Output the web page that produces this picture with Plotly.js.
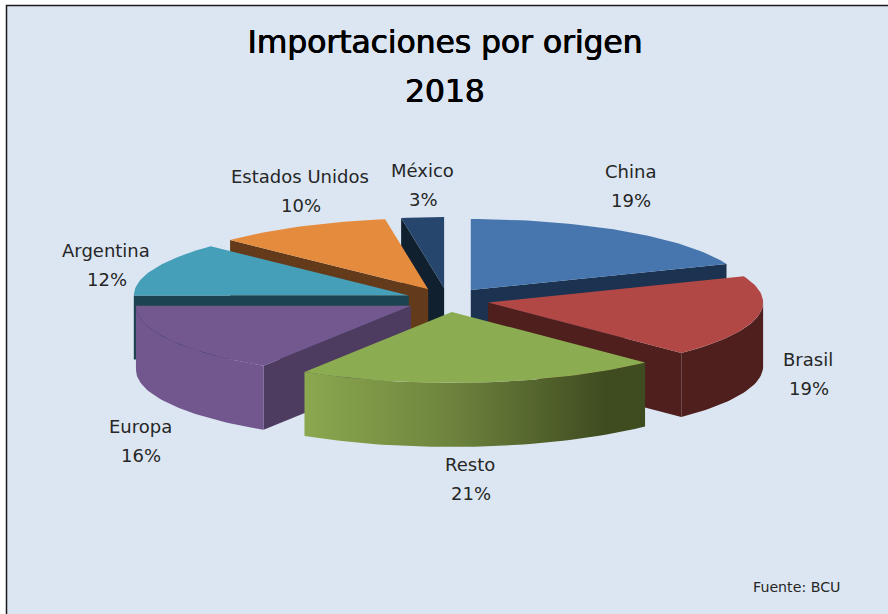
<!DOCTYPE html>
<html><head><meta charset="utf-8">
<script src="https://cdn.plot.ly/plotly-3.0.1.min.js"></script>
<style>html,body{margin:0;padding:0;background:#fff}</style></head>
<body><div id="chart" style="width:888px;height:614px"></div>
<script>
// Data (clockwise from 12 o'clock)
const categories = ['China','Brasil','Resto','Europa','Argentina','Estados Unidos','México'];
const shares = [19.0,18.6,21.4,16.0,12.2,10.3,2.5];
const topColors = ['#4776AF','#B14845','#8CAC51','#73578F','#459FB9','#E58B3E','#26466D'];
const wallColors = ['#1B3350','#4E1F1D','#6C813C','#72568E','#1C4450','#643B1A','#11202F'];
const faceColors = ['#1B3350','#4E1F1D','#3F4C20','#4E3B60','#1C4450','#643B1A','#11202F'];
const labelX = [630,808,470,140,106,300,422];
const labelY = [171,359,464,426,250,176,170];
const paintOrder = ['México','China','Estados Unidos','Argentina','Brasil','Europa','Resto'];

// Projection of the tilted, exploded pie
const CX=447.4, CY=300, R=275, RY=71, EX=41.6, EY=12, H=64, D2R=Math.PI/180;
const total = shares.reduce((a,b)=>a+b,0);
let cum = 0;
const slices = categories.map((name,i)=>{
  const a0 = cum/total*360; cum += shares[i]; const a1 = cum/total*360;
  const mid = (a0+a1)/2*D2R;
  return {name,i,a0,a1,ax:CX+EX*Math.sin(mid),ay:CY-EY*Math.cos(mid)};
});
const rim = (s,deg,dy=0)=>[s.ax+R*Math.sin(deg*D2R), s.ay-RY*Math.cos(deg*D2R)+dy];
function arc(s,from,to,dy=0){const n=Math.max(2,Math.ceil((to-from)/1.5));const p=[];
  for(let k=0;k<=n;k++)p.push(rim(s,from+(to-from)*k/n,dy));return p;}
function poly(pts,color,name,extra){pts=pts.concat([pts[0]]);
  return Object.assign({type:'scatter',mode:'lines',x:pts.map(p=>p[0]),y:pts.map(p=>p[1]),
    fill:'toself',fillcolor:color,line:{width:0,color:color},name:name,hoverinfo:'skip',showlegend:false},extra||{});}
function face(s,deg,color){const r=rim(s,deg);
  return poly([[s.ax,s.ay],r,[r[0],r[1]+H],[s.ax,s.ay+H]],color,s.name);}

const traces=[];
paintOrder.forEach(name=>{
  const s=slices.find(t=>t.name===name), i=s.i;
  if(Math.sin(s.a0*D2R)<-1e-6) traces.push(face(s,s.a0,faceColors[i]));
  if(Math.sin(s.a1*D2R)>1e-6) traces.push(face(s,s.a1,faceColors[i]));
  const from=Math.max(s.a0,90), to=Math.min(s.a1,270);
  if(to>from){
    const top=arc(s,from,to), bot=arc(s,from,to,H).reverse();
    const extra = name==='Resto' ? {fillgradient:{type:'horizontal',
      colorscale:[[0,'#8BA84F'],[0.45,'#6C813C'],[0.88,'#3F4C20'],[1,'#3F4C20']]}} : {};
    traces.push(poly(top.concat(bot),wallColors[i],name,extra));
  }
  traces.push(poly([[s.ax,s.ay]].concat(arc(s,s.a0,s.a1)),topColors[i],name));
});

const LBL={family:'DejaVu Sans, Verdana, sans-serif',size:18,color:'#262626'};
const TTL={family:'DejaVu Sans, Verdana, sans-serif',size:31.3,color:'#000',shadow:'0.6px 0 0 #000, -0.3px 0 0 #000'};
const annotations=[];
categories.forEach((c,i)=>{
  const base={xref:'x',yref:'y',showarrow:false,xanchor:'center',yanchor:'middle',font:LBL};
  annotations.push(Object.assign({},base,{x:labelX[i],y:labelY[i],text:c}));
  annotations.push(Object.assign({},base,{x:labelX[i]+1,y:labelY[i]+29,text:Math.round(shares[i])+'%'}));
});
annotations.push({xref:'x',yref:'y',x:445,y:91,text:'2018',showarrow:false,xanchor:'center',yanchor:'middle',font:TTL});
annotations.push({xref:'x',yref:'y',x:796,y:587,text:'Fuente: BCU',showarrow:false,xanchor:'center',yanchor:'middle',
  font:{family:'DejaVu Sans, Verdana, sans-serif',size:14.2,color:'#262626'}});

const layout={
  width:888,height:614,margin:{l:0,r:0,t:0,b:0},
  paper_bgcolor:'#ffffff',plot_bgcolor:'rgba(0,0,0,0)',showlegend:false,
  title:{text:'Importaciones por origen',x:445/888,xanchor:'center',y:1-42/614,yanchor:'middle',font:TTL},
  xaxis:{range:[0,888],visible:false,fixedrange:true},
  yaxis:{range:[614,0],visible:false,fixedrange:true},
  shapes:[{type:'rect',xref:'x',yref:'y',layer:'below',x0:6.5,y0:5.5,x1:900,y1:640,
    fillcolor:'#DCE6F2',line:{color:'#1a1a1a',width:1.5}}],
  annotations
};
Plotly.newPlot('chart',traces,layout,{displayModeBar:false,staticPlot:true});
</script></body></html>
